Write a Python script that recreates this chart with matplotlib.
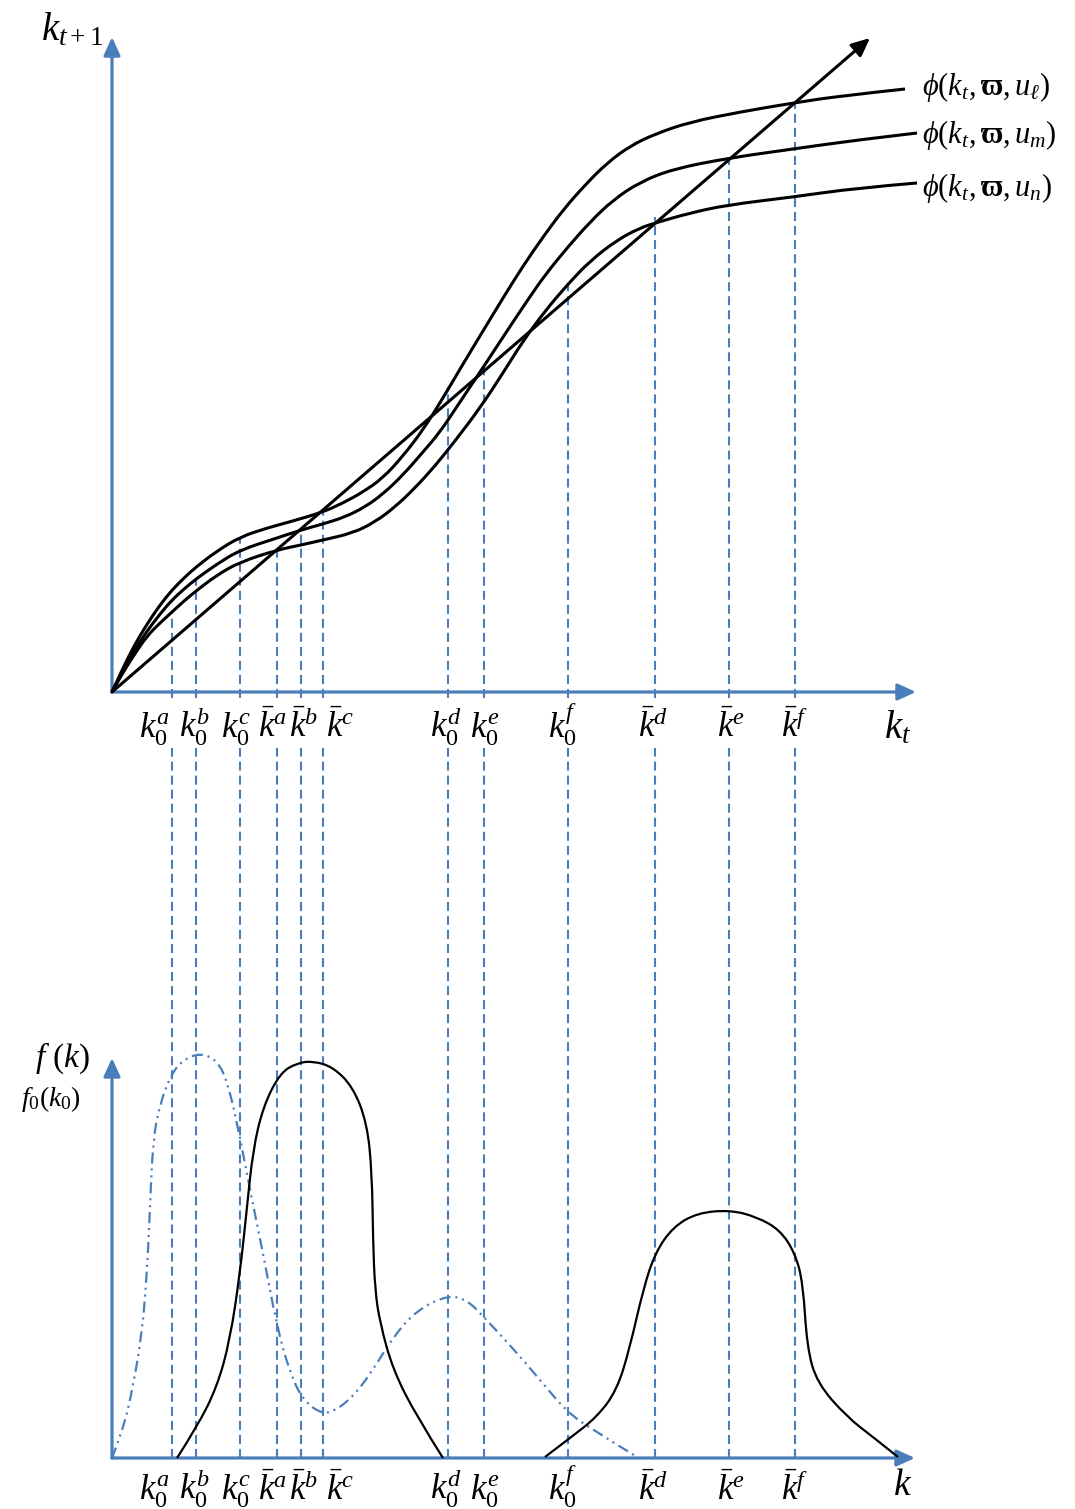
import matplotlib
matplotlib.use('Agg')
import matplotlib.pyplot as plt
from matplotlib.path import Path
from matplotlib.patches import PathPatch

plt.rcParams['font.family'] = ['Liberation Serif', 'DejaVu Serif']
plt.rcParams['mathtext.fontset'] = 'custom'
plt.rcParams['mathtext.rm'] = 'Liberation Serif'
plt.rcParams['mathtext.it'] = 'Liberation Serif:italic'
plt.rcParams['mathtext.bf'] = 'Liberation Serif:bold'
plt.rcParams['lines.scale_dashes'] = False

BLUE = '#4a7ebb'

# ---- upper panel: k_{t+1} = phi(k_t, w, u) ----
diag_end = (7.58, 6.54)

ul_x = [0, 0.10, 0.22, 0.35, 0.48, 0.60, 0.72, 0.84, 1.05, 1.28, 1.55, 1.81, 2.11, 2.31, 2.51,
        2.71, 2.91, 3.11, 3.31, 3.51, 3.71, 3.91, 4.11, 4.31, 4.51, 4.73, 4.95, 5.18, 5.43,
        5.78, 6.28, 6.81, 7.28, 7.93]
ul_y = [0, 0.22, 0.46, 0.68, 0.87, 1.02, 1.14, 1.25, 1.41, 1.55, 1.64, 1.71, 1.80, 1.89, 2.00,
        2.14, 2.36, 2.62, 2.94, 3.28, 3.61, 3.94, 4.26, 4.55, 4.82, 5.07, 5.29, 5.46, 5.58,
        5.70, 5.80, 5.89, 5.96, 6.03]

um_x = [0, 0.10, 0.22, 0.35, 0.48, 0.60, 0.72, 0.84, 1.05, 1.28, 1.65, 1.89, 2.11, 2.33, 2.53,
        2.71, 2.91, 3.11, 3.28, 3.44, 3.60, 3.76, 3.95, 4.15, 4.33, 4.55, 4.78, 5.01, 5.28,
        5.61, 6.17, 6.81, 7.45, 8.05]
um_y = [0, 0.20, 0.41, 0.61, 0.78, 0.92, 1.03, 1.13, 1.28, 1.42, 1.54, 1.62, 1.68, 1.75, 1.85,
        1.98, 2.17, 2.40, 2.60, 2.84, 3.08, 3.32, 3.61, 3.91, 4.17, 4.44, 4.70, 4.92, 5.10,
        5.23, 5.34, 5.43, 5.52, 5.59]

un_x = [0, 0.10, 0.22, 0.35, 0.48, 0.60, 0.72, 0.84, 1.05, 1.28, 1.65, 1.89, 2.11, 2.41, 2.63,
        2.83, 3.03, 3.23, 3.43, 3.68, 3.91, 4.11, 4.33, 4.56, 4.78, 5.05, 5.28, 5.43, 5.78,
        6.15, 6.81, 7.45, 8.05]
un_y = [0, 0.18, 0.37, 0.56, 0.69, 0.80, 0.91, 1.01, 1.17, 1.30, 1.42, 1.47, 1.52, 1.59, 1.70,
        1.85, 2.04, 2.26, 2.51, 2.84, 3.19, 3.51, 3.81, 4.08, 4.31, 4.52, 4.64, 4.69, 4.79,
        4.87, 4.95, 5.04, 5.09]

curve_labels = [r'$\phi(k_t,\mathbf{\varpi},u_\ell)$', r'$\phi(k_t,\mathbf{\varpi},u_m)$',
                r'$\phi(k_t,\mathbf{\varpi},u_n)$']
curve_label_y = [6.05, 5.57, 5.04]

# capital levels marked with dashed lines, and how high each line reaches in the upper panel
mark_x = [0.60, 0.84, 1.28, 1.65, 1.89, 2.11, 3.36, 3.72, 4.56, 5.43, 6.17, 6.83]
mark_top = [0.80, 1.14, 1.55, 1.42, 1.62, 1.80, 3.05, 3.27, 4.09, 4.75, 5.34, 5.89]
mark_labels = [r'$k_0^a$', r'$k_0^b$', r'$k_0^c$', r'$\bar{k}^a$', r'$\bar{k}^b$', r'$\bar{k}^c$',
               r'$k_0^d$', r'$k_0^e$', r'$k_0^f$', r'$\bar{k}^d$', r'$\bar{k}^e$', r'$\bar{k}^f$']
label_x = [0.43, 0.83, 1.24, 1.60, 1.92, 2.28, 3.34, 3.73, 4.51, 5.41, 6.19, 6.83]

# ---- lower panel: densities ----
f0_x = [0, 0.11, 0.21, 0.30, 0.35, 0.38, 0.41, 0.48, 0.60, 0.71, 0.88, 1.05, 1.16, 1.28, 1.38,
        1.51, 1.65, 1.78, 1.91, 2.08, 2.21, 2.41, 2.61, 2.81, 3.05, 3.36, 3.55, 3.71, 4.05,
        4.28, 4.55, 4.81, 5.25]
f0_y = [0, 0.28, 0.71, 1.25, 1.85, 2.51, 3.18, 3.55, 3.85, 3.98, 4.05, 3.98, 3.75, 3.21, 2.68,
        2.05, 1.31, 0.85, 0.58, 0.45, 0.46, 0.61, 0.88, 1.21, 1.48, 1.63, 1.58, 1.42, 1.05,
        0.78, 0.46, 0.28, 0.01]

f1_x = [0.65, 0.85, 1.05, 1.18, 1.28, 1.35, 1.41, 1.51, 1.68, 1.85, 2.01, 2.21, 2.41, 2.55,
        2.60, 2.61, 2.63, 2.68, 2.81, 3.05, 3.31]
f1_y = [0, 0.31, 0.71, 1.18, 1.85, 2.51, 3.08, 3.51, 3.85, 3.95, 3.97, 3.91, 3.71, 3.35,
        2.85, 2.18, 1.68, 1.35, 0.88, 0.41, 0]

f2_x = [4.33, 4.58, 4.85, 5.05, 5.18, 5.31, 5.43, 5.61, 5.85, 6.18, 6.45, 6.68, 6.83, 6.91,
        6.95, 7.05, 7.35, 7.61, 7.86]
f2_y = [0.01, 0.20, 0.41, 0.68, 1.11, 1.68, 2.05, 2.31, 2.45, 2.48, 2.41, 2.28, 2.05, 1.75,
        1.11, 0.75, 0.41, 0.21, 0.01]

UP = 7.66  # vertical offset of the upper panel's origin


def smooth(xs, ys, dy=0.0):
    pts = [(x, y + dy) for x, y in zip(xs, ys)]
    verts = [pts[0]]
    codes = [Path.MOVETO]
    for i in range(1, len(pts) - 1):
        if i < len(pts) - 2:
            end = ((pts[i][0] + pts[i + 1][0]) / 2, (pts[i][1] + pts[i + 1][1]) / 2)
        else:
            end = pts[-1]
        verts += [pts[i], end]
        codes += [Path.CURVE3, Path.CURVE3]
    return Path(verts, codes)


def arrow(ax, p0, p1, color, lw):
    ax.annotate('', xy=p1, xytext=p0,
                arrowprops=dict(arrowstyle='-|>,head_length=1.1,head_width=0.5',
                                color=color, lw=lw, shrinkA=0, shrinkB=0, mutation_scale=10))


fig = plt.figure(figsize=(10.75, 15.09), dpi=100)
ax = fig.add_axes([0, 0, 1, 1])
ax.set_xlim(-1.12, 9.63)
ax.set_ylim(-0.51, 14.58)
ax.axis('off')

# dashed guide lines (broken where the upper tick labels sit)
for x, top in zip(mark_x, mark_top):
    ax.plot([x, x], [UP - 0.06, UP + top], color=BLUE, lw=1.5, ls=(0, (6.5, 3.6)), zorder=1)
    ax.plot([x, x], [0, UP - 0.56], color=BLUE, lw=1.5, ls=(0, (6.5, 3.6)), zorder=1)

# upper axes
arrow(ax, (0, UP), (8.04, UP), BLUE, 2.3)
arrow(ax, (0, UP), (0, UP + 6.55), BLUE, 2.3)
arrow(ax, (0, UP), (diag_end[0], UP + diag_end[1]), 'black', 2.2)

for xs, ys in [(ul_x, ul_y), (um_x, um_y), (un_x, un_y)]:
    ax.add_patch(PathPatch(smooth(xs, ys, UP), fc='none', ec='black', lw=2.2, zorder=3))

for lab, y in zip(curve_labels, curve_label_y):
    ax.text(8.10, UP + y, lab, fontsize=22, ha='left', va='center')

ax.text(-0.40, 14.28, r'$k_{t+1}$', fontsize=28, ha='center', va='center')
ax.text(7.86, UP - 0.46, r'$k_t$', fontsize=28, ha='center', va='baseline')

# lower axes
arrow(ax, (0, 0), (8.03, 0), BLUE, 2.3)
arrow(ax, (0, 0), (0, 4.00), BLUE, 2.3)

ax.add_patch(PathPatch(smooth(f0_x, f0_y), fc='none', ec=BLUE, lw=1.6,
                       ls=(0, (8, 3.5, 1.5, 3.5, 1.5, 3.5)), zorder=2))
ax.add_patch(PathPatch(smooth(f1_x, f1_y), fc='none', ec='black', lw=1.6, zorder=3))
ax.add_patch(PathPatch(smooth(f2_x, f2_y), fc='none', ec='black', lw=1.6, zorder=3))

ax.text(-0.50, 4.00, r'$f\ (k)$', fontsize=24, ha='center', va='center')
ax.text(-0.61, 3.59, r'$f_0(k_0)$', fontsize=20, ha='center', va='center')
ax.text(7.91, -0.37, r'$k$', fontsize=27, ha='center', va='baseline')

for lab, x in zip(mark_labels, label_x):
    ax.text(x, UP - 0.45, lab, fontsize=25, ha='center', va='baseline')
    ax.text(x, -0.42, lab, fontsize=25, ha='center', va='baseline')

plt.savefig('out.png', dpi=100)
